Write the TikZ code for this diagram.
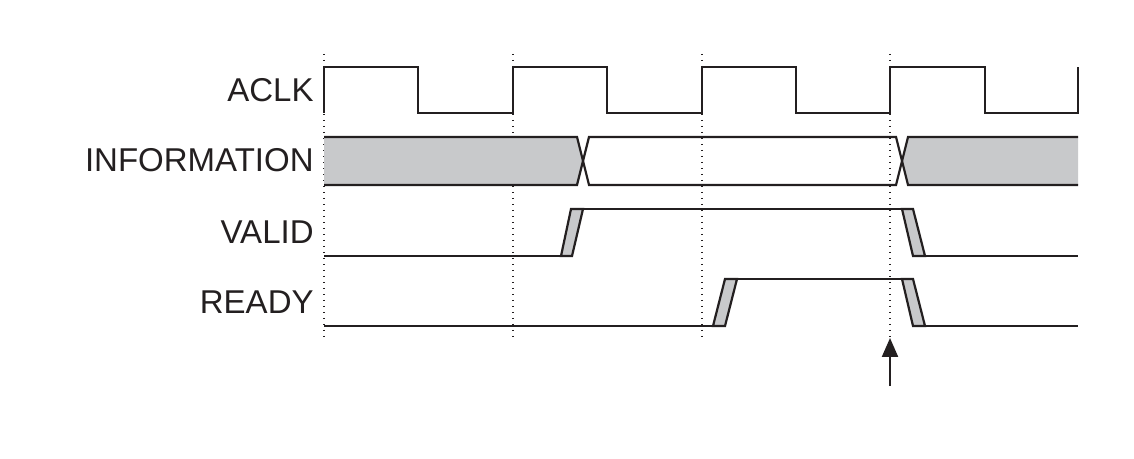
\documentclass[tikz,border=0pt]{standalone}
\usepackage{fontspec}
\setmainfont{Liberation Sans}
\usetikzlibrary{arrows.meta}
\definecolor{wgray}{RGB}{200,201,203}
\definecolor{wline}{RGB}{35,31,32}
\begin{document}
\begin{tikzpicture}[x=0.5pt,y=-0.5pt,
  wave/.style={draw=wline,line width=1.1pt,line join=miter},
  edgebox/.style={draw=wline,fill=wgray,line width=1.1pt,line join=miter},
  grid/.style={draw=wline,line width=0.6pt,dash pattern=on 0.6pt off 2.4pt},
  siglabel/.style={anchor=east,inner sep=0pt,font=\fontsize{16.5}{18}\selectfont,text=wline},
  marker/.style={draw=wline,line width=1.1pt,-{Triangle[length=9.5pt,width=8pt]}}]
\useasboundingbox (0,0) rectangle (1134,459);
% dotted clock-edge guides
\foreach \x in {324,513,702,890} \draw[grid] (\x,54) -- (\x,340);
% labels
\node[siglabel] (laclk) at (314,90) {ACLK};
\node[siglabel] (linfo) at (314,160) {INFORMATION};
\node[siglabel] (lvalid) at (314,232) {VALID};
\node[siglabel] (lready) at (314,302) {READY};
% ACLK
\draw[wave] (324,113) -- (324,67) -- (418,67) -- (418,113) -- (513,113) -- (513,67) -- (607,67) -- (607,113)
  -- (702,113) -- (702,67) -- (796,67) -- (796,113) -- (890,113) -- (890,67) -- (985,67) -- (985,113)
  -- (1078,113) -- (1078,67);
% INFORMATION
\fill[wgray] (324,137) -- (577,137) -- (583,161) -- (577,185) -- (324,185) -- cycle;
\fill[wgray] (1078,137) -- (908,137) -- (902,161) -- (908,185) -- (1078,185) -- cycle;
\draw[wave] (324,137) -- (577,137) -- (589,185) -- (896,185) -- (908,137) -- (1078,137);
\draw[wave] (324,185) -- (577,185) -- (589,137) -- (896,137) -- (908,185) -- (1078,185);
% VALID
\draw[wave] (324,256) -- (561,256);
\draw[edgebox] (561,256) -- (572,256) -- (583,209) -- (571,209) -- cycle;
\draw[wave] (583,209) -- (902,209);
\draw[edgebox] (902,209) -- (913,209) -- (925,256) -- (913,256) -- cycle;
\draw[wave] (925,256) -- (1078,256);
% READY
\draw[wave] (324,326) -- (713,326);
\draw[edgebox] (713,326) -- (725,326) -- (737,279) -- (725,279) -- cycle;
\draw[wave] (737,279) -- (902,279);
\draw[edgebox] (902,279) -- (913,279) -- (925,326) -- (913,326) -- cycle;
\draw[wave] (925,326) -- (1078,326);
% handshake marker
\coordinate (mbot) at (890,386);
\coordinate (mtop) at (890,338);
\draw[marker] (mbot) -- (mtop);
\end{tikzpicture}
\end{document}
